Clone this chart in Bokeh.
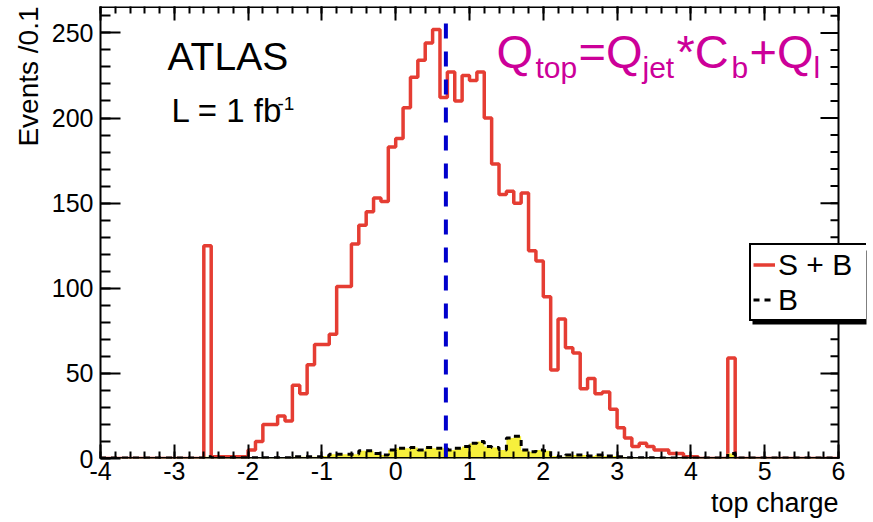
import numpy as np
from bokeh.plotting import figure
from bokeh.models import (Range1d, LinearAxis, FixedTicker, Label, Legend, LegendItem,
                          Title, BoxAnnotation)
from bokeh.embed import file_html
from bokeh.resources import INLINE

# ---------------- data ----------------
bin_lo = -4.0
bin_width = 0.1

sb_counts = [
    0, 0, 0, 0, 0, 0, 0, 0, 0, 0,
    0, 0, 0, 0, 125, 1, 1, 1, 1, 1,
    5, 10, 20, 20, 25, 22, 43, 38, 55, 67,
    67, 73, 101, 101, 126, 137, 145, 153, 151, 183,
    188, 206, 224, 234, 244, 252, 212, 227, 210, 225,
    222, 227, 200, 173, 155, 157, 150, 156, 122, 116,
    95, 52, 82, 65, 62, 41, 47, 38, 39, 29,
    18, 12, 7, 9, 7, 5, 5, 3, 3, 1,
    1, 0, 0, 0, 0, 59, 0, 0, 0, 0,
    0, 0, 0, 0, 0, 0, 0, 0, 0, 0,
]

b_counts = [
    0.3, 0.3, 0.3, 0.3, 0.3, 0.3, 0.3, 0.3, 0.3, 0.3,
    0.3, 0.3, 0.3, 0.3, 1, 0.5, 0.5, 0.5, 0.5, 0.5,
    0.5, 0.5, 0.5, 0.5, 0.5, 0.5, 1, 1, 1, 1,
    1.5, 2.5, 2.5, 2.5, 2.5, 4.5, 4.5, 3, 2, 5,
    6, 6, 6.5, 5, 6.5, 6, 6, 5, 6, 7,
    9, 10, 7, 6.5, 5, 12, 13, 5, 4, 5,
    4.5, 1.5, 1, 2, 2, 2, 1.5, 2, 1.5, 1.5,
    1, 0.5, 0.5, 0.5, 0.5, 0.3, 0.3, 0.3, 0.3, 0.3,
    0.3, 0.3, 0.3, 0.3, 0.3, 3, 0.3, 0.3, 0.3, 0.3,
    0.3, 0.3, 0.3, 0.3, 0.3, 0.3, 0.3, 0.3, 0.3, 0.3,
]

x_tick_values = [-4, -3, -2, -1, 0, 1, 2, 3, 4, 5, 6]
x_tick_labels = ["-4", "-3", "-2", "-1", "0", "1", "2", "3", "4", "5", "6"]
y_tick_values = [0, 50, 100, 150, 200, 250]
y_tick_labels = ["0", "50", "100", "150", "200", "250"]

cut_value = 0.68
cut_top = 257

x_min, x_max = -4, 6
y_min, y_max = 0, 265.5

# ---------------- layout constants ----------------
FONT = "Liberation Sans"
AXIS_PX = 738            # pixels between x_min and x_max
FRAME_PX = 766           # frame is wider so the legend can overlap the right axis
ux = (x_max - x_min) / AXIS_PX          # data units per pixel (x)
x_view_max = x_min + FRAME_PX * ux

n_bins = len(sb_counts)
edges = bin_lo + bin_width * np.arange(n_bins + 1)


def step_xy(counts):
    xs = np.repeat(edges, 2)
    ys = np.concatenate([[0.0], np.repeat(np.asarray(counts, float), 2), [0.0]])
    return xs, ys


p = figure(width=873, height=522, x_range=Range1d(x_min, x_view_max),
           y_range=Range1d(y_min, y_max), output_backend="svg",
           toolbar_location=None, min_border_left=100, min_border_right=7,
           min_border_top=6, min_border_bottom=64)
p.xgrid.visible = False
p.ygrid.visible = False
p.outline_line_color = None
p.background_fill_color = "white"
p.border_fill_color = "white"

x_minor = list(np.round(np.arange(x_min, x_max + 0.001, 0.2), 3))
y_minor = list(range(0, 261, 10))

xt = FixedTicker(ticks=x_tick_values, minor_ticks=x_minor)
yt = FixedTicker(ticks=y_tick_values, minor_ticks=y_minor)


def style_axis(ax, ticker, tin, tmin):
    ax.ticker = ticker
    ax.major_tick_in = tin
    ax.major_tick_out = 0
    ax.minor_tick_in = tmin
    ax.minor_tick_out = 0
    ax.axis_line_color = "black"
    ax.axis_line_width = 2
    ax.major_tick_line_color = "black"
    ax.major_tick_line_width = 2
    ax.minor_tick_line_color = "black"
    ax.minor_tick_line_width = 2


xa = p.xaxis[0]
style_axis(xa, xt, 14, 7)
xa.axis_line_color = None
xa.major_label_overrides = {v: s for v, s in zip(x_tick_values, x_tick_labels)}
xa.major_label_text_font = FONT
xa.major_label_text_font_size = "25px"
xa.major_label_text_color = "black"
xa.major_label_standoff = 3

ya = p.yaxis[0]
style_axis(ya, yt, 20, 10)
ya.major_label_overrides = {v: s for v, s in zip(y_tick_values, y_tick_labels)}
ya.major_label_text_font = FONT
ya.major_label_text_font_size = "25px"
ya.major_label_text_color = "black"
ya.major_label_standoff = 7

top_ax = LinearAxis()
style_axis(top_ax, xt, 14, 7)
top_ax.axis_line_color = None
top_ax.major_label_text_font_size = "1px"
top_ax.major_label_text_color = None
top_ax.major_label_standoff = 0
p.add_layout(top_ax, "above")

# axis titles (side panels, so they are not clipped to the frame)
p.add_layout(Title(text="Events /0.1", align="right", offset=0, standoff=10,
                   text_font=FONT, text_font_size="28px", text_font_style="normal",
                   text_color="black"), "left")
p.add_layout(Title(text="top charge", align="right",
                   offset=FRAME_PX - AXIS_PX, standoff=7,
                   text_font=FONT, text_font_size="27px", text_font_style="normal",
                   text_color="black"), "below")

# ---------------- histograms ----------------
sx, sy = step_xy(sb_counts)
bx, by = step_xy(b_counts)

red = p.line(sx, sy, line_color="#e53d33", line_width=3.5)
p.varea(x=bx, y1=np.zeros_like(by), y2=by, fill_color="#f7f03c")
blk = p.line(bx, by, line_color="black", line_width=3, line_dash="6 5")

p.segment(x0=[cut_value], y0=[0], x1=[cut_value], y1=[cut_top],
          line_color="#0000cc", line_width=4, line_dash="15 13")

# ---------------- frame lines and right-hand ticks ----------------
p.segment(x0=[x_min, x_min], y0=[y_min, y_max], x1=[x_max, x_max], y1=[y_min, y_max],
          line_color="black", line_width=3)
p.segment(x0=[x_max], y0=[y_min], x1=[x_max], y1=[y_max], line_color="black", line_width=2)
p.segment(x0=[x_max - 18 * ux] * len(y_tick_values), y0=y_tick_values,
          x1=[x_max] * len(y_tick_values), y1=y_tick_values, line_color="black", line_width=2)
p.segment(x0=[x_max - 8 * ux] * len(y_minor), y0=y_minor,
          x1=[x_max] * len(y_minor), y1=y_minor, line_color="black", line_width=2)

# ---------------- texts ----------------
def lab(x, base_y, text, size, color="black", **kw):
    # base_y is the wanted baseline (screen px above the frame bottom)
    y = base_y + 0.37 * size
    p.add_layout(Label(x=x, y=y, x_units="screen", y_units="screen", text=text,
                       text_font=FONT, text_font_size=f"{size}px", text_color=color,
                       text_baseline="alphabetic", **kw))


lab(67, 388, "ATLAS", 39)
lab(71, 336, "L = 1 fb", 33)
lab(177, 348, "-1", 19)

MAG = "#cc0099"
lab(396, 390, "Q", 47, MAG)
lab(435, 380, "top", 30, MAG)
lab(478, 390, "=Q", 47, MAG)
lab(542, 380, "jet", 30, MAG)
lab(576, 390, "*C", 47, MAG)
lab(631, 380, "b", 30, MAG)
lab(649, 390, "+Q", 47, MAG)
lab(713, 380, "l", 30, MAG)

# ---------------- legend ----------------
LEG_X, LEG_Y, LEG_W, LEG_H, SHADOW = 649, 137, 115, 74, 3
p.add_layout(BoxAnnotation(left=LEG_X + SHADOW, right=LEG_X + LEG_W + SHADOW,
                           bottom=LEG_Y - SHADOW, top=LEG_Y + LEG_H - SHADOW,
                           left_units="screen", right_units="screen",
                           bottom_units="screen", top_units="screen",
                           fill_color="black", fill_alpha=1.0, line_color=None))
legend = Legend(items=[LegendItem(label="S + B", renderers=[red]),
                       LegendItem(label="B", renderers=[blk])],
                location=(LEG_X, LEG_Y), margin=0, padding=2, spacing=0,
                glyph_width=22, glyph_height=35, label_height=35, label_width=86,
                label_standoff=3, label_text_font=FONT, label_text_color="black",
                label_text_font_size="30px", border_line_color="black",
                border_line_alpha=1.0, border_line_width=2,
                background_fill_color="white", background_fill_alpha=1.0)
p.add_layout(legend)

open("out.html", "w").write(file_html(p, INLINE))
